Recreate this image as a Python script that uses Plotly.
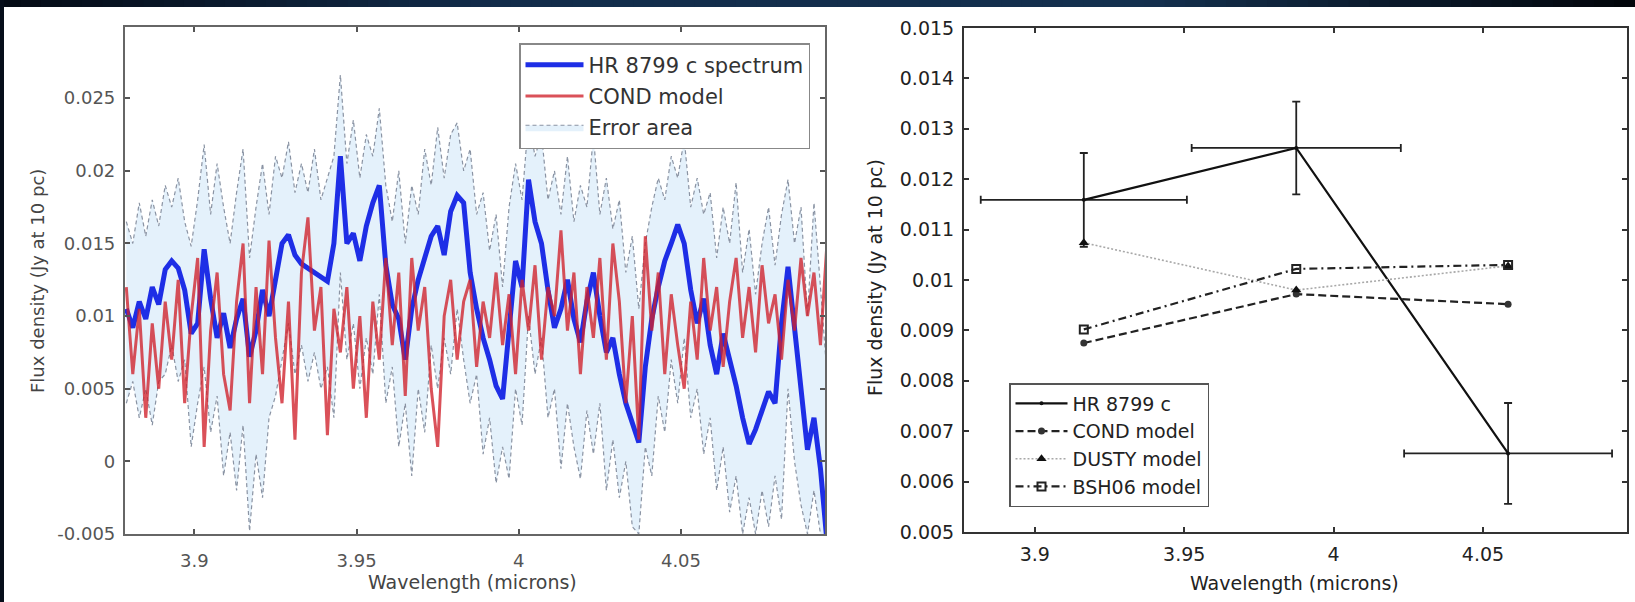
import plotly.graph_objects as go

# ---------------- data: left panel (spectrum) ----------------
WAVELENGTH = [
    3.879, 3.881, 3.883, 3.885, 3.887, 3.889, 3.891, 3.893, 3.895, 3.897,
    3.899, 3.901, 3.903, 3.905, 3.907, 3.909, 3.911, 3.913, 3.915, 3.917,
    3.919, 3.921, 3.923, 3.925, 3.927, 3.929, 3.931, 3.933, 3.935, 3.937,
    3.939, 3.941, 3.943, 3.945, 3.947, 3.949, 3.951, 3.953, 3.955, 3.957,
    3.959, 3.961, 3.963, 3.965, 3.967, 3.969, 3.971, 3.973, 3.975, 3.977,
    3.979, 3.981, 3.983, 3.985, 3.987, 3.989, 3.991, 3.993, 3.995, 3.997,
    3.999, 4.001, 4.003, 4.005, 4.007, 4.009, 4.011, 4.013, 4.015, 4.017,
    4.019, 4.021, 4.023, 4.025, 4.027, 4.029, 4.031, 4.033, 4.035, 4.037,
    4.039, 4.041, 4.043, 4.045, 4.047, 4.049, 4.051, 4.053, 4.055, 4.057,
    4.059, 4.061, 4.063, 4.065, 4.067, 4.069, 4.071, 4.073, 4.075, 4.077,
    4.079, 4.081, 4.083, 4.085, 4.087, 4.089, 4.091, 4.093, 4.095,
]
SPEC_FLUX = [
    0.0105, 0.0092, 0.0110, 0.0098, 0.0120, 0.0108, 0.0132, 0.0138, 0.0133, 0.0118,
    0.0088, 0.0095, 0.0146, 0.0112, 0.0085, 0.0102, 0.0078, 0.0098, 0.0112, 0.0072,
    0.0090, 0.0118, 0.0100, 0.0124, 0.0150, 0.0156, 0.0142, 0.0136, 0.0133, 0.0130,
    0.0128, 0.0124, 0.0150, 0.0210, 0.0150, 0.0157, 0.0138, 0.0162, 0.0178, 0.0190,
    0.0135, 0.0108, 0.0098, 0.0070, 0.0105, 0.0125, 0.0140, 0.0155, 0.0162, 0.0142,
    0.0172, 0.0183, 0.0178, 0.0130, 0.0105, 0.0085, 0.0070, 0.0052, 0.0043, 0.0095,
    0.0138, 0.0120, 0.0194, 0.0165, 0.0150, 0.0118, 0.0092, 0.0105, 0.0125, 0.0098,
    0.0082, 0.0110, 0.0130, 0.0100, 0.0075, 0.0085, 0.0060, 0.0040, 0.0025, 0.0013,
    0.0065, 0.0098, 0.0120, 0.0138, 0.0150, 0.0163, 0.0150, 0.0118, 0.0095, 0.0112,
    0.0080, 0.0060, 0.0088, 0.0070, 0.0052, 0.0030, 0.0012, 0.0022, 0.0035, 0.0048,
    0.0040, 0.0095, 0.0134, 0.0090, 0.0050, 0.0008, 0.0030, -0.0005, -0.0055,
]
SPEC_UPPER = [
    0.0165, 0.0150, 0.0178, 0.0155, 0.0180, 0.0162, 0.0190, 0.0175, 0.0195, 0.0165,
    0.0148, 0.0180, 0.0218, 0.0170, 0.0205, 0.0175, 0.0150, 0.0185, 0.0215, 0.0140,
    0.0175, 0.0205, 0.0170, 0.0210, 0.0195, 0.0220, 0.0185, 0.0205, 0.0185, 0.0215,
    0.0180, 0.0195, 0.0210, 0.0266, 0.0205, 0.0235, 0.0195, 0.0225, 0.0210, 0.0243,
    0.0190, 0.0165, 0.0200, 0.0150, 0.0190, 0.0170, 0.0215, 0.0190, 0.0230, 0.0195,
    0.0225, 0.0233, 0.0200, 0.0215, 0.0170, 0.0185, 0.0145, 0.0170, 0.0120, 0.0175,
    0.0205, 0.0180, 0.0235, 0.0210, 0.0225, 0.0180, 0.0200, 0.0170, 0.0210, 0.0165,
    0.0190, 0.0175, 0.0224, 0.0170, 0.0195, 0.0160, 0.0180, 0.0130, 0.0155, 0.0105,
    0.0150, 0.0175, 0.0195, 0.0180, 0.0210, 0.0195, 0.0222, 0.0175, 0.0195, 0.0170,
    0.0185, 0.0140, 0.0175, 0.0150, 0.0192, 0.0130, 0.0160, 0.0115, 0.0150, 0.0175,
    0.0135, 0.0170, 0.0194, 0.0150, 0.0175, 0.0100, 0.0178, 0.0120, 0.0060,
]
SPEC_LOWER = [
    0.0040, 0.0055, 0.0030, 0.0050, 0.0025, 0.0055, 0.0060, 0.0080, 0.0055, 0.0070,
    0.0010, 0.0040, 0.0065, 0.0020, 0.0045, -0.0010, 0.0020, -0.0020, 0.0025, -0.0048,
    0.0005, -0.0025, 0.0030, 0.0045, 0.0070, 0.0095, 0.0060, 0.0080, 0.0055, 0.0075,
    0.0050, 0.0065, 0.0030, 0.0130, 0.0070, 0.0095, 0.0050, 0.0085, 0.0060, 0.0115,
    0.0040, 0.0065, 0.0010, 0.0040, -0.0010, 0.0050, 0.0020, 0.0080, 0.0050, 0.0085,
    0.0060, 0.0105, 0.0070, 0.0040, 0.0060, 0.0005, 0.0030, -0.0015, 0.0010, -0.0012,
    0.0050, 0.0025, 0.0100, 0.0060, 0.0085, 0.0030, 0.0050, -0.0005, 0.0040, 0.0010,
    -0.0012, 0.0035, 0.0005, 0.0040, -0.0020, 0.0015, -0.0025, 0.0000, -0.0045, -0.0050,
    0.0010, -0.0010, 0.0045, 0.0020, 0.0070, 0.0040, 0.0085, 0.0030, 0.0050, 0.0005,
    0.0030, -0.0020, 0.0010, -0.0035, -0.0010, -0.0050, -0.0025, -0.0050, -0.0020, -0.0045,
    -0.0010, -0.0040, 0.0050, 0.0000, -0.0030, -0.0050, -0.0020, -0.0050, -0.0070,
]
COND_SPEC = [
    0.0120, 0.0060, 0.0105, 0.0030, 0.0095, 0.0050, 0.0110, 0.0070, 0.0125, 0.0040,
    0.0100, 0.0140, 0.0010, 0.0090, 0.0130, 0.0060, 0.0035, 0.0110, 0.0150, 0.0040,
    0.0120, 0.0060, 0.0152, 0.0085, 0.0040, 0.0110, 0.0015, 0.0130, 0.0168, 0.0090,
    0.0120, 0.0018, 0.0105, 0.0075, 0.0120, 0.0050, 0.0100, 0.0030, 0.0110, 0.0070,
    0.0140, 0.0080, 0.0130, 0.0045, 0.0140, 0.0090, 0.0120, 0.0050, 0.0010, 0.0100,
    0.0125, 0.0070, 0.0110, 0.0125, 0.0065, 0.0110, 0.0085, 0.0130, 0.0080, 0.0115,
    0.0060, 0.0125, 0.0090, 0.0135, 0.0070, 0.0120, 0.0100, 0.0159, 0.0090, 0.0130,
    0.0060, 0.0120, 0.0085, 0.0140, 0.0070, 0.0150, 0.0110, 0.0040, 0.0100, 0.0015,
    0.0155, 0.0090, 0.0130, 0.0060, 0.0115, 0.0080, 0.0050, 0.0110, 0.0070, 0.0140,
    0.0090, 0.0120, 0.0065, 0.0110, 0.0140, 0.0085, 0.0120, 0.0075, 0.0135, 0.0095,
    0.0115, 0.0070, 0.0125, 0.0090, 0.0140, 0.0100, 0.0130, 0.0080, 0.0150,
]

# ---------------- data: right panel (photometry) ----------------
PHOT_WL = [3.9164, 3.9875, 4.0584]
PHOT_WL_ERR = [0.0345, 0.0350, 0.0348]
HR8799C_FLUX = [0.01159, 0.01262, 0.00656]
HR8799C_ERR = [0.00093, 0.00092, 0.00100]
COND_PHOT = [0.00875, 0.00972, 0.00952]
DUSTY_PHOT = [0.01074, 0.00980, 0.01028]
BSH06_PHOT = [0.00902, 0.01022, 0.01030]

# ---------------- ticks ----------------
X_TICKS = [3.9, 3.95, 4.0, 4.05]
X_TICKTEXT = ["3.9", "3.95", "4", "4.05"]
LEFT_Y_TICKS = [-0.005, 0.0, 0.005, 0.01, 0.015, 0.02, 0.025]
LEFT_Y_TICKTEXT = ["-0.005", "0", "0.005", "0.01", "0.015", "0.02", "0.025"]
RIGHT_Y_TICKS = [0.005, 0.006, 0.007, 0.008, 0.009, 0.010, 0.011, 0.012, 0.013, 0.014, 0.015]
RIGHT_Y_TICKTEXT = ["0.005", "0.006", "0.007", "0.008", "0.009", "0.01",
                    "0.011", "0.012", "0.013", "0.014", "0.015"]

W, H = 1635, 602
FONT = "DejaVu Sans"


def px(x):
    return x / W


def py(y):
    return 1 - y / H


fig = go.Figure()

# --- left panel ---
ERR_LINE = dict(color="#8a93a3", width=1.2, dash="4px,3px")
fig.add_trace(go.Scatter(
    x=WAVELENGTH, y=SPEC_LOWER, mode="lines", xaxis="x", yaxis="y",
    line=ERR_LINE, showlegend=False, hoverinfo="skip"))
fig.add_trace(go.Scatter(
    x=WAVELENGTH, y=SPEC_UPPER, mode="lines", xaxis="x", yaxis="y",
    fill="tonexty", fillcolor="#e4f1fb", line=ERR_LINE,
    name="Error area", legend="legend", legendgroup="g3", legendrank=3))
fig.add_trace(go.Scatter(
    x=WAVELENGTH, y=SPEC_FLUX, mode="lines", xaxis="x", yaxis="y",
    line=dict(color="#1e2ee6", width=5),
    name="HR 8799 c spectrum", legend="legend", legendgroup="g1", legendrank=1))
fig.add_trace(go.Scatter(
    x=WAVELENGTH, y=COND_SPEC, mode="lines", xaxis="x", yaxis="y",
    line=dict(color="rgba(208,32,42,0.78)", width=3),
    name="COND model", legend="legend", legendgroup="g2", legendrank=2))

# --- right panel ---
fig.add_trace(go.Scatter(
    x=PHOT_WL, y=HR8799C_FLUX, mode="lines+markers", xaxis="x2", yaxis="y2",
    line=dict(color="#111", width=2.2),
    marker=dict(symbol="circle", size=4, color="#111"),
    error_x=dict(type="data", array=PHOT_WL_ERR, color="#222", thickness=1.8, width=4),
    error_y=dict(type="data", array=HR8799C_ERR, color="#222", thickness=1.8, width=4),
    name="HR 8799 c", legend="legend2", legendgroup="h1", legendrank=1))
fig.add_trace(go.Scatter(
    x=PHOT_WL, y=COND_PHOT, mode="lines+markers", xaxis="x2", yaxis="y2",
    line=dict(color="#222", width=2.2, dash="8px,4px"),
    marker=dict(symbol="circle", size=7, color="#333"),
    name="COND model", legend="legend2", legendgroup="h2", legendrank=2))
fig.add_trace(go.Scatter(
    x=PHOT_WL, y=DUSTY_PHOT, mode="lines+markers", xaxis="x2", yaxis="y2",
    line=dict(color="#a8a8a8", width=1.6, dash="2px,2px"),
    marker=dict(symbol="triangle-up", size=9, color="#111"),
    name="DUSTY model", legend="legend2", legendgroup="h3", legendrank=3))
fig.add_trace(go.Scatter(
    x=PHOT_WL, y=BSH06_PHOT, mode="lines+markers", xaxis="x2", yaxis="y2",
    line=dict(color="#222", width=2.2, dash="8px,4px,2px,4px"),
    marker=dict(symbol="square-open", size=8, color="#222", line=dict(width=2)),
    name="BSH06 model", legend="legend2", legendgroup="h4", legendrank=4))

axis_common = dict(
    showline=True, mirror="ticks", ticks="inside", ticklen=5, tickwidth=1.5,
    showgrid=False, zeroline=False, tickmode="array", automargin=False,
)

fig.update_layout(
    width=W, height=H,
    margin=dict(l=0, r=0, t=0, b=0, pad=0, autoexpand=False),
    paper_bgcolor="white", plot_bgcolor="white",
    font=dict(family=FONT, color="#333"),
    xaxis=dict(domain=[px(125), px(825)], range=[3.8786, 4.0944], anchor="y",
               tickvals=X_TICKS, ticktext=X_TICKTEXT, linecolor="#666", linewidth=2.2,
               tickcolor="#555", tickfont=dict(size=18, color="#555"),
               ticklabelstandoff=9, **axis_common),
    yaxis=dict(domain=[py(534), py(27)], range=[-0.005, 0.0299], anchor="x",
               tickvals=LEFT_Y_TICKS, ticktext=LEFT_Y_TICKTEXT, linecolor="#666",
               linewidth=2.2, tickcolor="#555", tickfont=dict(size=18, color="#555"),
               ticklabelstandoff=4, **axis_common),
    xaxis2=dict(domain=[px(964), px(1627)], range=[3.8763, 4.0982], anchor="y2",
                tickvals=X_TICKS, ticktext=X_TICKTEXT, linecolor="#333", linewidth=2,
                tickcolor="#333", tickfont=dict(size=19, color="#222"),
                ticklabelstandoff=4, **axis_common),
    yaxis2=dict(domain=[py(532), py(28)], range=[0.005, 0.015], anchor="x2",
                tickvals=RIGHT_Y_TICKS, ticktext=RIGHT_Y_TICKTEXT, linecolor="#333",
                linewidth=2, tickcolor="#333", tickfont=dict(size=19, color="#222"),
                ticklabelstandoff=4, **axis_common),
    legend=dict(x=px(519), y=py(43), xanchor="left", yanchor="top",
                bgcolor="white", bordercolor="#888", borderwidth=1.5,
                font=dict(size=21, color="#333"), traceorder="grouped",
                tracegroupgap=1, itemwidth=58),
    legend2=dict(x=px(1009), y=py(383), xanchor="left", yanchor="top",
                 bgcolor="white", bordercolor="#555", borderwidth=1.5,
                 font=dict(size=19, color="#222"), traceorder="grouped",
                 tracegroupgap=0, itemwidth=52),
)

# axis titles as annotations
ann = [
    dict(text="Wavelength (microns)", x=px(473), y=py(582), font=dict(size=19, color="#444")),
    dict(text="Wavelength (microns)", x=px(1294), y=py(583), font=dict(size=19, color="#222")),
    dict(text="Flux density (Jy at 10 pc)", x=px(37), y=py(281), textangle=-90,
         font=dict(size=18, color="#444")),
    dict(text="Flux density (Jy at 10 pc)", x=px(875), y=py(278), textangle=-90,
         font=dict(size=19, color="#222")),
]
for a in ann:
    fig.add_annotation(xref="paper", yref="paper", showarrow=False,
                       xanchor="center", yanchor="middle", **a)

# dark frame: gradient band along the top, thin dark strip on the left
stops = [(0.0, (4, 10, 20)), (0.3, (18, 44, 74)), (0.7, (20, 48, 78)), (1.0, (2, 5, 10))]


def band_color(t):
    for (t0, c0), (t1, c1) in zip(stops[:-1], stops[1:]):
        if t0 <= t <= t1:
            f = (t - t0) / (t1 - t0)
            return "rgb({},{},{})".format(*[round(a + (b - a) * f) for a, b in zip(c0, c1)])
    return "rgb(2,5,10)"


NSEG = 80
for k in range(NSEG):
    fig.add_shape(type="rect", xref="paper", yref="paper",
                  x0=k / NSEG, x1=(k + 1) / NSEG + 0.001, y0=py(7), y1=1,
                  fillcolor=band_color((k + 0.5) / NSEG), line=dict(width=0), layer="above")
fig.add_shape(type="rect", xref="paper", yref="paper", x0=0, x1=px(4), y0=0, y1=1,
              fillcolor="rgb(6,14,26)", line=dict(width=0), layer="above")

fig.write_html("out.html")
